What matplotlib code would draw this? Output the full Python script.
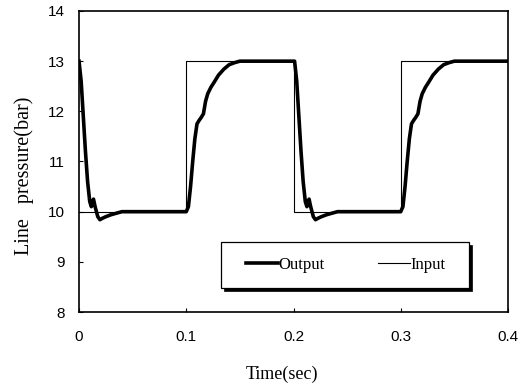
import matplotlib
matplotlib.use("Agg")
import matplotlib.pyplot as plt
from matplotlib.patches import Rectangle

# Input (square wave)
t_in = [0.0, 0.1, 0.1, 0.2, 0.2, 0.3, 0.3, 0.4]
p_in = [10.0, 10.0, 13.0, 13.0, 10.0, 10.0, 13.0, 13.0]

# Output (measured response)
t_out = [0.000, 0.002, 0.004, 0.006, 0.008, 0.010, 0.0115, 0.0125, 0.0135, 0.015,
         0.0175, 0.0195, 0.022, 0.025, 0.030, 0.035, 0.040,
         0.100, 0.102, 0.104, 0.106, 0.108, 0.110, 0.112, 0.114, 0.116, 0.118,
         0.120, 0.123, 0.126, 0.130, 0.135, 0.140, 0.145, 0.150,
         0.201, 0.203, 0.205, 0.207, 0.209, 0.211, 0.2125, 0.2135, 0.2145, 0.216,
         0.2185, 0.2205, 0.223, 0.226, 0.231, 0.236, 0.241,
         0.300, 0.302, 0.304, 0.306, 0.308, 0.310, 0.312, 0.314, 0.316, 0.318,
         0.320, 0.323, 0.326, 0.330, 0.335, 0.340, 0.345, 0.350, 0.400]
p_out = [13.0, 12.6, 11.9, 11.2, 10.6, 10.2, 10.1, 10.2, 10.25, 10.1,
         9.9, 9.84, 9.87, 9.9, 9.94, 9.97, 10.0,
         10.0, 10.1, 10.5, 11.0, 11.45, 11.75, 11.82, 11.88, 11.95, 12.2,
         12.35, 12.48, 12.58, 12.72, 12.84, 12.93, 12.97, 13.0,
         13.0, 12.6, 11.9, 11.2, 10.6, 10.2, 10.1, 10.2, 10.25, 10.1,
         9.9, 9.84, 9.87, 9.9, 9.94, 9.97, 10.0,
         10.0, 10.1, 10.5, 11.0, 11.45, 11.75, 11.82, 11.88, 11.95, 12.2,
         12.35, 12.48, 12.58, 12.72, 12.84, 12.93, 12.97, 13.0, 13.0]

x_ticks = [0, 0.1, 0.2, 0.3, 0.4]
x_labels = ["0", "0.1", "0.2", "0.3", "0.4"]
y_ticks = [8, 9, 10, 11, 12, 13, 14]

fig = plt.figure(figsize=(5.31, 3.9), dpi=100)
ax = fig.add_axes([0.1488, 0.2, 0.8079, 0.7718])

ax.plot(t_out, p_out, color="black", lw=2.6, label="Output", solid_joinstyle="round")
ax.plot(t_in, p_in, color="black", lw=0.8, label="Input")

ax.set_xlim(0, 0.4)
ax.set_ylim(8, 14)
ax.set_xticks(x_ticks)
ax.set_xticklabels(x_labels)
ax.set_yticks(y_ticks)
ax.tick_params(direction="in", length=3, width=0.8, labelsize=11,
               top=False, right=False)
ax.tick_params(axis="x", pad=13)
ax.tick_params(axis="y", pad=10)
for lab in ax.get_xticklabels() + ax.get_yticklabels():
    lab.set_fontfamily("Liberation Sans")
for s in ax.spines.values():
    s.set_linewidth(1.2)

ax.set_xlabel("Time(sec)", fontfamily="Liberation Serif", fontsize=13)
ax.xaxis.set_label_coords(0.472, -0.178)
ax.set_ylabel("Line   pressure(bar)", fontfamily="Liberation Serif", fontsize=14.5)
ax.yaxis.set_label_coords(-0.105, 0.452)

# legend box with shadow
bx0, by0, bw, bh = 0.331, 0.080, 0.578, 0.153
ax.add_patch(Rectangle((bx0 + 0.006, by0 - 0.009), bw, bh, transform=ax.transAxes,
                       facecolor="black", edgecolor="black", lw=0.5, zorder=4))
ax.add_patch(Rectangle((bx0, by0), bw, bh, transform=ax.transAxes,
                       facecolor="white", edgecolor="black", lw=0.9, zorder=5))
leg = ax.legend(loc="center", bbox_to_anchor=(bx0 + bw / 2 + 0.002, by0 + bh / 2),
                ncol=2, frameon=False, handlelength=1.9, handletextpad=0.05,
                columnspacing=3.2, borderaxespad=0,
                prop={"family": "Liberation Serif", "size": 12})
leg.set_zorder(6)

fig.savefig("out.png", dpi=100)
